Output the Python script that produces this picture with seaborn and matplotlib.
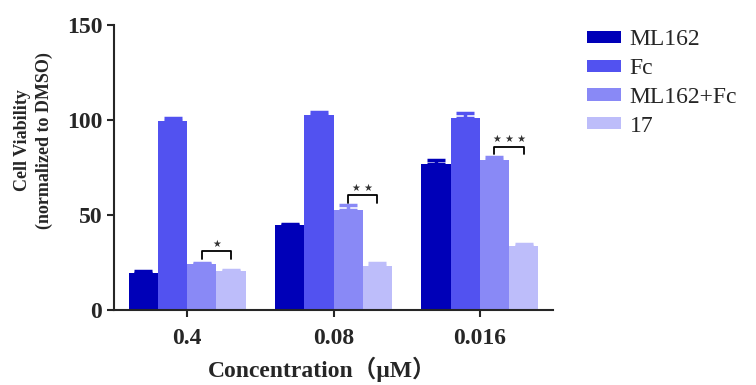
import pandas as pd
import numpy as np
import seaborn as sns
import matplotlib.pyplot as plt

# values
concentrations = ["0.4", "0.08", "0.016"]
treatments = ["ML162", "Fc", "ML162+Fc", "17"]
viability = {
    "ML162":    [19.5, 44.8, 77.0],
    "Fc":       [99.7, 102.4, 101.0],
    "ML162+Fc": [24.0, 52.5, 79.0],
    "17":       [20.5, 23.3, 33.8],
}
sem = {
    "ML162":    [1.0, 0.6, 1.7],
    "Fc":       [1.2, 1.7, 2.6],
    "ML162+Fc": [1.0, 3.0, 1.4],
    "17":       [0.8, 1.2, 1.2],
}
colors = ["#0000b8", "#5252f0", "#8989f6", "#bdbdfa"]
# significance: ML162+Fc vs 17 in each group
sig_labels = ["\u2605", "\u2605 \u2605", "\u2605 \u2605 \u2605"]
sig_heights = [31, 60.5, 86]
sig_drop = 4

sns.set_style("ticks")
plt.rcParams["font.family"] = ["Liberation Serif", "Noto Sans CJK SC", "DejaVu Sans"]
plt.rcParams["font.weight"] = "bold"

df = pd.DataFrame(
    [(c, t, viability[t][i], sem[t][i])
     for t in treatments for i, c in enumerate(concentrations)],
    columns=["conc", "treatment", "viability", "sem"],
)

fig = plt.figure(figsize=(7.56, 3.85), dpi=100)
ax = fig.add_axes([0.1508, 0.1948, 0.5807, 0.7402])

sns.barplot(data=df, x="conc", y="viability", hue="treatment",
            order=concentrations, hue_order=treatments, palette=colors,
            saturation=1, errorbar=None, linewidth=0, ax=ax)

# upper-only error bars in the bar colour
centers = {}
for t, cont, col in zip(treatments, ax.containers, colors):
    xs = [p.get_x() + p.get_width() / 2 for p in cont.patches]
    centers[t] = xs
    ax.errorbar(xs, viability[t], yerr=[np.zeros(3), sem[t]], fmt="none",
                ecolor=col, elinewidth=2.5, capsize=6.5, capthick=2.5,
                zorder=1)

# significance brackets
for i in range(len(concentrations)):
    x1 = centers["ML162+Fc"][i]
    x2 = centers["17"][i]
    h = sig_heights[i]
    ax.plot([x1, x1, x2, x2], [h - sig_drop, h, h, h - sig_drop],
            color="black", lw=1.3)
    ax.text((x1 + x2) / 2, h + 1.2, sig_labels[i], ha="center", va="bottom",
            fontsize=7, color="#333333", family="DejaVu Sans")

ax.set_ylim(0, 150)
ax.set_xlim(-0.5, 2.5)
ax.set_yticks([0, 50, 100, 150])
ax.tick_params(axis="both", length=5, width=1.5, labelsize=17)
ax.tick_params(axis="x", pad=8)
for lab in ax.get_xticklabels() + ax.get_yticklabels():
    lab.set_fontweight("bold")
for s in ["left", "bottom"]:
    ax.spines[s].set_linewidth(1.5)
sns.despine(ax=ax)

ax.set_ylabel("Cell Viability\n(normalized to DMSO)", fontsize=13,
              fontweight="bold", linespacing=1.35)
ax.yaxis.set_label_coords(-0.14, 0.595)
ax.set_xlabel("Concentration（μM）", fontsize=17, fontweight="bold")
ax.xaxis.set_label_coords(0.474, -0.165)

ax.legend(loc="upper left", bbox_to_anchor=(1.0775, 0.985), frameon=False,
          handlelength=1.45, handleheight=0.42, labelspacing=0.33,
          handletextpad=0.35, borderpad=0, borderaxespad=0,
          prop={"family": "Liberation Serif", "weight": "normal", "size": 17})

fig.savefig("out.png", dpi=100)
